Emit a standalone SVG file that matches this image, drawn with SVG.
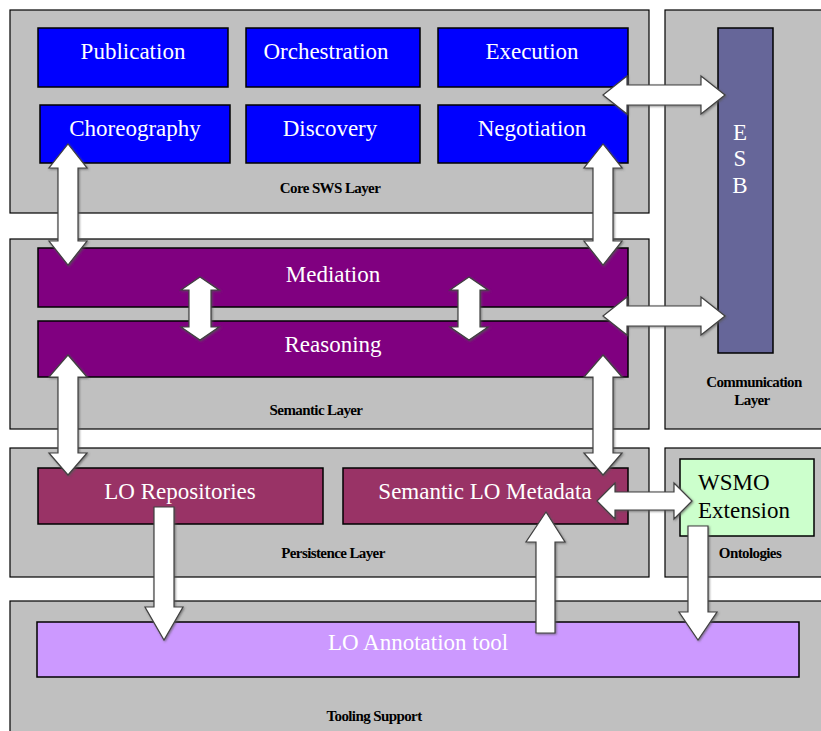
<svg xmlns="http://www.w3.org/2000/svg" width="821" height="731" viewBox="0 0 821 731">
<style>
.layer{fill:#c0c0c0;stroke:#000;stroke-width:1.2}
.node{stroke:#000;stroke-width:1.5}
.blue{fill:#0000ff}
.purple{fill:#800080}
.maroon{fill:#993366}
.esb{fill:#666699}
.green{fill:#ccffcc}
.lilac{fill:#cc99ff}
text{font-family:'Liberation Serif','DejaVu Serif',serif}
.t{font-size:23px;fill:#fff;text-anchor:middle}
.dk{fill:#000;text-anchor:start}
.lbl{font-size:15px;font-weight:bold;fill:#000;text-anchor:middle;letter-spacing:-0.6px}
.arrow{fill:#fff;stroke:#404040;stroke-width:1.2;filter:url(#sh)}
</style>
<defs>
<filter id="sh" x="-30%" y="-30%" width="160%" height="160%">
<feDropShadow dx="1" dy="1" stdDeviation="1.2" flood-color="#555" flood-opacity="0.7"/>
</filter>
</defs>
<rect width="821" height="731" fill="#fff"/>
<g id="layers">
<g id="core-layer"><rect class="layer" x="10" y="10" width="639" height="203"/><text class="lbl" x="330" y="193">Core SWS Layer</text></g>
<g id="comm-layer"><rect class="layer" x="665" y="10" width="160" height="419"/><text class="lbl" x="754" y="387">Communication</text><text class="lbl" x="752" y="405">Layer</text></g>
<g id="semantic-layer"><rect class="layer" x="10" y="239" width="639" height="190"/><text class="lbl" x="316" y="415">Semantic Layer</text></g>
<g id="persistence-layer"><rect class="layer" x="10" y="448" width="639" height="129"/><text class="lbl" x="333" y="558">Persistence Layer</text></g>
<g id="ontologies-layer"><rect class="layer" x="665" y="448" width="160" height="129"/><text class="lbl" x="750" y="558">Ontologies</text></g>
<g id="tooling-layer"><rect class="layer" x="10" y="601" width="815" height="140"/><text class="lbl" x="374" y="721">Tooling Support</text></g>
</g>
<g id="publication"><rect class="node blue" x="38" y="28" width="190" height="59"/><text class="t" x="133" y="59">Publication</text></g>
<g id="orchestration"><rect class="node blue" x="246" y="28" width="174" height="59"/><text class="t" x="326" y="59">Orchestration</text></g>
<g id="execution"><rect class="node blue" x="438" y="28" width="190" height="59"/><text class="t" x="532" y="59">Execution</text></g>
<g id="choreography"><rect class="node blue" x="40" y="105" width="190" height="58"/><text class="t" x="135" y="136">Choreography</text></g>
<g id="discovery"><rect class="node blue" x="246" y="105" width="174" height="58"/><text class="t" x="330" y="136">Discovery</text></g>
<g id="negotiation"><rect class="node blue" x="438" y="105" width="190" height="58"/><text class="t" x="532" y="136">Negotiation</text></g>
<g id="esb"><rect class="node esb" x="718" y="28" width="55" height="325"/><text class="t" x="740" y="140">E</text><text class="t" x="740" y="166">S</text><text class="t" x="740" y="193">B</text></g>
<g id="mediation"><rect class="node purple" x="38" y="248" width="590" height="59"/><text class="t" x="333" y="282">Mediation</text></g>
<g id="reasoning"><rect class="node purple" x="38" y="321" width="590" height="56"/><text class="t" x="333" y="352">Reasoning</text></g>
<g id="lo-repositories"><rect class="node maroon" x="38" y="468" width="285" height="56"/><text class="t" x="180" y="499">LO Repositories</text></g>
<g id="semantic-lo-metadata"><rect class="node maroon" x="343" y="468" width="285" height="56"/><text class="t" x="485" y="499">Semantic LO Metadata</text></g>
<g id="wsmo-extension"><rect class="node green" x="680" y="459" width="134" height="77"/><text class="t dk" x="698" y="490">WSMO</text><text class="t dk" x="698" y="518">Extension</text></g>
<g id="lo-annotation-tool"><rect class="node lilac" x="37" y="622" width="762" height="55"/><text class="t" x="418" y="650">LO Annotation tool</text></g>
<g id="connectors">
<path class="arrow" d="M68,144 L87,168 L78,168 L78,241 L87,241 L68,265 L49,241 L58,241 L58,168 L49,168 Z"/>
<path class="arrow" d="M603,144 L622,168 L613,168 L613,241 L622,241 L603,265 L584,241 L593,241 L593,168 L584,168 Z"/>
<path class="arrow" d="M603,95 L627,76 L627,85 L701,85 L701,76 L725,95 L701,114 L701,105 L627,105 L627,114 Z"/>
<path class="arrow" d="M200,277 L219,290 L211,290 L211,327 L219,327 L200,340 L181,327 L189,327 L189,290 L181,290 Z"/>
<path class="arrow" d="M469,277 L488,290 L480,290 L480,327 L488,327 L469,340 L450,327 L458,327 L458,290 L450,290 Z"/>
<path class="arrow" d="M603,316 L627,297 L627,306 L701,306 L701,297 L725,316 L701,335 L701,326 L627,326 L627,335 Z"/>
<path class="arrow" d="M68,355 L87,377 L78,377 L78,453 L87,453 L68,475 L49,453 L58,453 L58,377 L49,377 Z"/>
<path class="arrow" d="M603,355 L622,377 L613,377 L613,453 L622,453 L603,475 L584,453 L593,453 L593,377 L584,377 Z"/>
<path class="arrow" d="M597,501 L615,483 L615,492 L674,492 L674,483 L692,501 L674,519 L674,510 L615,510 L615,519 Z"/>
<path class="arrow" d="M154,507 L174,507 L174,607 L183,607 L164,640 L145,607 L154,607 Z"/>
<path class="arrow" d="M546,512 L565,542 L555,542 L555,633 L536,633 L536,542 L526,542 Z"/>
<path class="arrow" d="M688,526 L708,526 L708,612 L717,612 L698,640 L679,612 L688,612 Z"/>
</g>
</svg>
